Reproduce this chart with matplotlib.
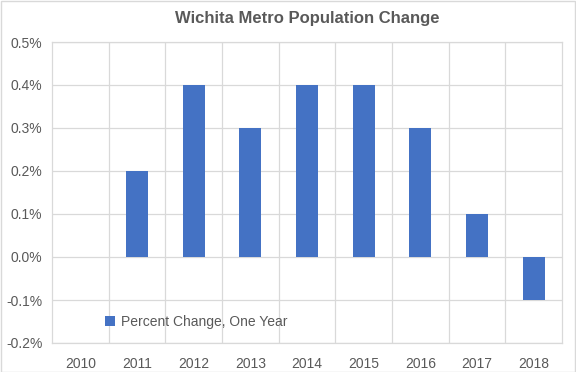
import matplotlib
matplotlib.use("Agg")
import matplotlib.pyplot as plt
from matplotlib.ticker import FuncFormatter, MultipleLocator

years = ["2010", "2011", "2012", "2013", "2014", "2015", "2016", "2017", "2018"]
pct_change = [0.0, 0.2, 0.4, 0.3, 0.4, 0.4, 0.3, 0.1, -0.1]
series_name = "Percent Change, One Year"
title = "Wichita Metro Population Change"

plt.rcParams['font.family'] = ['Liberation Sans', 'DejaVu Sans']

fig = plt.figure(figsize=(5.76, 3.72), dpi=100)
ax = fig.add_axes([52/576, 1 - 343/372, (562-52)/576, (343-42)/372])

x = list(range(len(years)))
ax.bar(x, pct_change, width=0.39, color="#4472C4", label=series_name, zorder=3)

ax.set_xlim(-0.5, len(years) - 0.5)
ax.set_ylim(-0.2, 0.5)
ax.yaxis.set_major_locator(MultipleLocator(0.1))
ax.yaxis.set_major_formatter(FuncFormatter(lambda v, p: f"{v:.1f}%"))
ax.set_xticks(x)
ax.set_xticklabels(years)
ax.set_xticks([i + 0.5 for i in x[:-1]], minor=True)

ax.grid(axis='y', which='major', color="#D9D9D9", linewidth=0.9, zorder=0)
ax.grid(axis='x', which='minor', color="#D9D9D9", linewidth=0.9, zorder=0)
ax.tick_params(axis='both', which='both', length=0, colors="#595959", labelsize=10)
ax.tick_params(axis='x', pad=10)
ax.tick_params(axis='y', pad=7)
for s in ax.spines.values():
    s.set_color("#D9D9D9")
    s.set_linewidth(0.9)

ax.set_title(title, fontsize=12, fontweight='bold', color="#595959", pad=14)

leg = ax.legend(loc='lower left', bbox_to_anchor=(0.08, 0.005), frameon=False,
                handlelength=0.7, handleheight=0.7, handletextpad=0.4,
                fontsize=10, labelcolor="#595959")

border = plt.Rectangle((0.001, 0.001), 0.997, 0.997, transform=fig.transFigure,
                       fill=False, edgecolor="#D9D9D9", linewidth=1)
fig.patches.append(border)

fig.savefig("out.png", dpi=100)
